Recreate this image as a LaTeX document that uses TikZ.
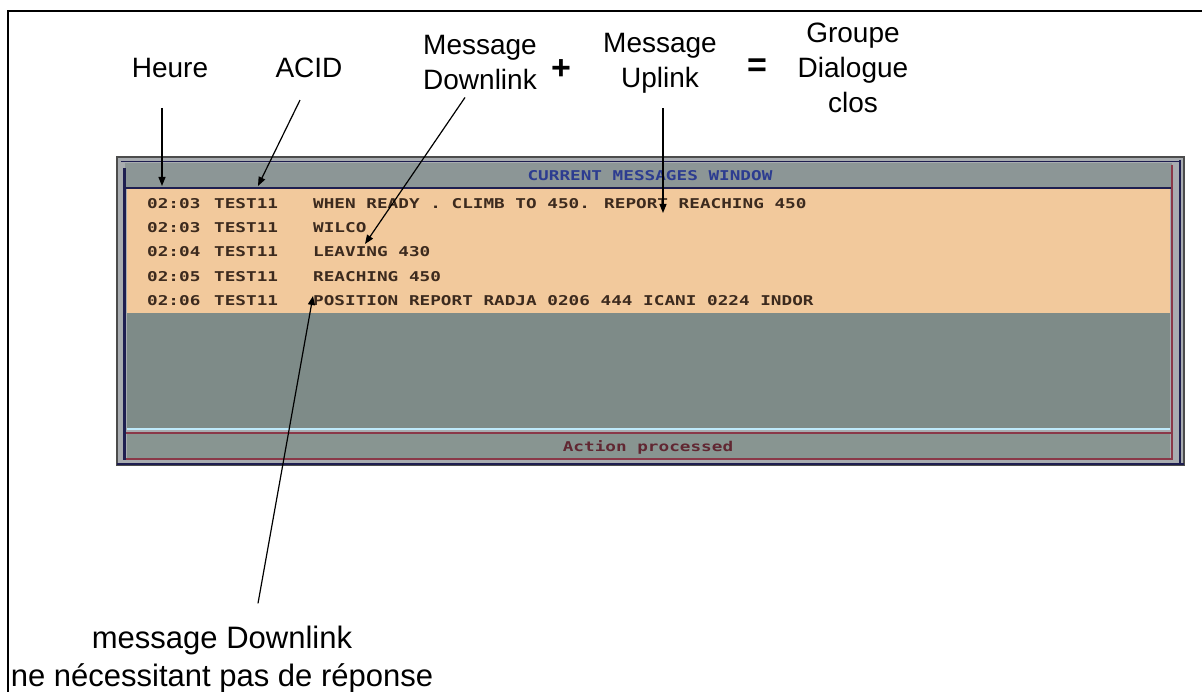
\documentclass[tikz,border=0pt]{standalone}
\usepackage{fontspec}
\setmainfont{Liberation Sans}
\newfontfamily\scrfont[FakeStretch=1.31]{DejaVu Sans Mono}
\usetikzlibrary{arrows.meta}

\definecolor{peach}{HTML}{F2C99C}
\definecolor{slate}{HTML}{7E8B88}
\definecolor{titlebar}{HTML}{8C9696}
\definecolor{statusbar}{HTML}{889591}
\definecolor{navy}{HTML}{1E1E50}
\definecolor{maroon}{HTML}{8A3848}
\definecolor{scrtext}{HTML}{3C2A1E}
\definecolor{scrtitle}{HTML}{2C3C90}
\definecolor{bezel}{HTML}{A8ACB0}

\tikzset{
  label/.style={font=\fontsize{28}{35}\selectfont, align=center, inner sep=0pt, text=black},
  sign/.style={font=\fontsize{34}{34}\selectfont\bfseries, inner sep=0pt},
  note/.style={font=\fontsize{31}{38}\selectfont, align=center, inner sep=0pt},
  scr/.style={font=\scrfont\bfseries\fontsize{13.5}{14}\selectfont, text=scrtext, inner sep=0pt, anchor=west},
  pointer/.style={-{Triangle[length=9pt,width=7pt]}, line width=1.2pt, black},
}

\begin{document}
\begin{tikzpicture}[x=1pt, y=-1pt]
\useasboundingbox (0,0) rectangle (1202,692);
\fill[white] (0,0) rectangle (1202,692);

% page frame (top and left edges)
\draw[line width=2pt, black] (8,692) -- (8,11) -- (1202,11);

% ---- message window ----
\draw[fill=bezel, draw=gray!60!black, line width=1.2pt] (117,157) rectangle (1184,465);
\draw[navy, line width=1.5pt] (121,161.5) -- (1180,161.5);
\fill[titlebar] (125,163) rectangle (1172,187);
\fill[peach] (127,189) rectangle (1170,313);
\fill[slate] (127,313) rectangle (1170,428);
\draw[white!75!cyan, line width=1.5pt] (127,429) -- (1170,429);
\draw[maroon, line width=1.5pt] (124,433) -- (1172,433);
\fill[statusbar] (127,434) rectangle (1170,458);
\draw[maroon, line width=1.5pt] (124,459) -- (1172,459);
\draw[navy, line width=2.5pt] (125,188) -- (1172,188);
\draw[navy, line width=3pt] (124,168) -- (124,460);
\draw[maroon, line width=1.5pt] (1172,165) -- (1172,460);
\draw[navy, line width=2pt] (1180,160) -- (1180,465);
\draw[navy, line width=2.5pt] (117,464) -- (1184,464);

\node[scr, text=scrtitle, anchor=center] (wtitle) at (650,176) {CURRENT MESSAGES WINDOW};
\node[scr, text=maroon!70!black, anchor=center] (status) at (648,447) {Action processed};

% message rows
\node[scr] (t1) at (147,204) {02:03};
\node[scr] (a1) at (214,204) {TEST11};
\node[scr] (m1) at (313,204) {WHEN READY . CLIMB TO 450. REPORT REACHING 450};
\node[scr] (t2) at (147,228) {02:03};
\node[scr] (a2) at (214,228) {TEST11};
\node[scr] (m2) at (313,228) {WILCO};
\node[scr] (t3) at (147,252) {02:04};
\node[scr] (a3) at (214,252) {TEST11};
\node[scr] (m3) at (313,252) {LEAVING 430};
\node[scr] (t4) at (147,277) {02:05};
\node[scr] (a4) at (214,277) {TEST11};
\node[scr] (m4) at (313,277) {REACHING 450};
\node[scr] (t5) at (147,301) {02:06};
\node[scr] (a5) at (214,301) {TEST11};
\node[scr] (m5) at (313,301) {POSITION REPORT RADJA 0206 444 ICANI 0224 INDOR};

% ---- annotations ----
\node[label] (heure) at (170,68) {Heure};
\node[label] (acid) at (309,68) {ACID};
\node[label] (down) at (480,63) {Message\\Downlink};
\node[sign] (plus) at (561,70) {+};
\node[label] (up) at (660,63) {Message\\Uplink};
\node[sign] (eq) at (757,68) {=};
\node[label] (groupe) at (853,68) {Groupe\\Dialogue\\clos};
\node[note] (nodown) at (222,659) {message Downlink\\ne nécessitant pas de réponse};

% arrow targets
\coordinate (heureTip) at (162,186);
\coordinate (acidTip) at (258,186);
\coordinate (downTip) at (365,244);
\coordinate (upTip) at (663,213);
\coordinate (posTip) at (313,296);

\draw[pointer] ([xshift=-8pt,yshift=-30pt]heure.south) -- (heureTip);
\draw[pointer] ([xshift=-9pt,yshift=-22pt]acid.south) -- (acidTip);
\draw[pointer] ([xshift=-15pt,yshift=-7pt]down.south) -- (downTip);
\draw[pointer] ([xshift=3pt,yshift=-15pt]up.south) -- (upTip);
\draw[pointer] ([xshift=36pt,yshift=22pt]nodown.north) -- (posTip);
\end{tikzpicture}
\end{document}
